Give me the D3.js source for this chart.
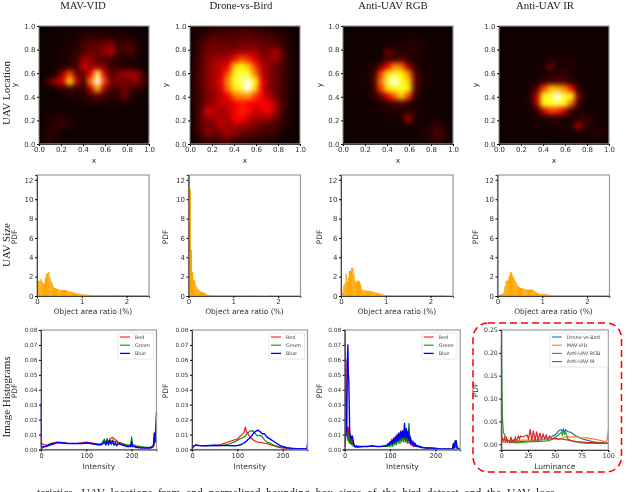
<!DOCTYPE html>
<html>
<head>
<meta charset="utf-8">
<script src="https://cdn.jsdelivr.net/npm/d3@7"></script>
<style>
  html, body { margin: 0; padding: 0; background: #fff; overflow: hidden; }
  svg { display: block; filter: blur(0.35px); }
  .tick text { font-family: "DejaVu Sans"; font-size: 7px; fill: #333; }
  .lbl { font-family: "DejaVu Sans"; font-size: 7.5px; fill: #333; }
  .serif { font-family: "Liberation Serif"; fill: #222; }
  .leg { font-family: "DejaVu Sans"; font-size: 4.9px; fill: #444; }
</style>
</head>
<body>
<svg id="chart" width="640" height="492"></svg>
<script>
// titles and row names
const titles = ['MAV-VID', 'Drone-vs-Bird', 'Anti-UAV RGB', 'Anti-UAV IR'];
const rowNames = ['UAV Location', 'UAV Size', 'Image Histograms'];

// UAV location density, 16 x 16 cells, top row is y = 1
const heatMav = [
  1,1,1,2,2,2,2,3,3,3,2,2,2,1,1,1,
  1,1,1,2,2,4,6,7,7,6,5,5,5,4,2,1,
  1,1,2,2,3,5,10,15,14,18,22,8,10,10,3,1,
  1,1,2,2,4,6,12,18,15,24,28,9,8,12,4,1,
  1,1,2,3,5,9,26,24,14,12,10,6,4,4,2,1,
  1,1,2,4,6,10,34,24,26,20,8,6,5,4,2,1,
  1,1,5,26,52,16,16,42,84,36,12,20,26,28,22,4,
  1,14,26,40,74,30,10,60,104,52,16,22,16,20,20,6,
  1,2,4,7,10,7,7,32,66,26,12,9,18,10,7,2,
  1,1,1,2,3,3,5,9,14,9,6,6,18,5,2,1,
  1,1,1,1,1,2,3,3,3,3,3,3,3,2,1,1,
  1,1,1,1,1,1,1,1,1,1,1,1,1,1,1,1,
  1,3,5,6,4,1,1,1,1,1,1,1,1,1,1,1,
  1,5,7,7,4,1,1,1,1,1,1,1,1,1,1,1,
  1,6,3,1,1,1,1,1,1,1,1,1,1,1,1,1,
  1,6,3,1,1,1,1,1,1,1,1,1,1,1,1,1
];
const heatDrone = [
  2,3,5,7,8,8,8,10,10,8,6,5,4,2,1,1,
  2,6,11,13,13,13,12,14,14,12,12,11,9,6,2,1,
  3,9,15,17,16,15,15,18,18,18,15,14,13,8,3,1,
  4,10,17,20,19,20,23,26,28,28,18,20,30,12,4,1,
  4,11,20,25,27,28,44,54,48,36,24,22,26,13,5,2,
  5,12,21,28,32,40,72,78,70,50,30,22,15,11,5,2,
  5,13,22,28,34,54,80,86,80,60,32,22,15,10,5,2,
  5,13,22,28,38,62,82,88,112,78,38,22,15,10,4,2,
  5,12,21,26,36,58,76,84,108,72,40,22,15,9,4,2,
  4,11,19,24,32,40,58,62,64,50,40,28,18,9,4,1,
  4,11,20,26,34,34,40,46,42,40,42,40,26,10,4,1,
  4,13,36,32,24,32,40,46,44,32,36,42,26,10,3,1,
  4,13,24,24,30,26,40,42,32,26,26,24,15,8,3,1,
  4,13,19,19,32,24,30,26,24,19,15,13,10,6,2,1,
  3,11,22,17,20,26,22,17,15,12,10,9,7,3,1,1,
  1,5,9,9,11,15,9,7,6,5,4,4,3,1,1,1
];
const heatRgb = [
  1,1,1,1,1,1,1,1,1,1,1,1,1,1,1,1,
  1,1,1,1,1,1,1,2,2,3,3,2,1,1,1,1,
  1,1,1,1,1,1,2,3,3,4,4,3,2,1,1,1,
  1,1,1,1,1,1,16,6,4,5,5,3,2,1,1,1,
  1,1,1,1,1,2,12,10,16,6,4,2,1,1,1,1,
  1,1,1,2,4,18,42,62,58,26,6,3,2,1,1,1,
  1,1,2,2,8,50,76,84,78,62,14,4,2,1,1,1,
  1,3,2,3,10,58,86,100,82,72,16,4,2,1,1,1,
  1,1,2,2,8,50,74,80,82,76,14,3,2,1,1,1,
  1,1,1,2,4,16,38,56,72,50,8,2,1,1,1,1,
  1,1,1,1,2,4,7,10,12,8,3,2,1,1,1,1,
  1,1,1,1,2,3,3,4,4,4,3,2,1,1,1,1,
  1,1,1,1,1,2,2,3,3,28,3,2,1,1,1,1,
  1,1,1,1,1,1,1,2,2,4,2,2,3,8,4,1,
  1,1,1,1,1,1,1,1,1,1,1,3,6,12,8,2,
  1,1,1,1,1,1,1,1,1,1,1,2,3,5,5,1
];
const heatIr = [
  1,1,1,1,1,1,1,1,1,1,1,1,1,1,1,1,
  1,1,1,1,1,1,1,1,1,1,1,1,1,1,1,1,
  1,1,1,1,1,1,1,1,1,1,1,1,1,1,1,1,
  1,1,1,1,1,1,1,2,2,2,2,2,1,1,1,1,
  1,1,1,1,1,1,2,3,3,3,3,2,1,1,1,1,
  1,1,1,1,1,2,3,16,4,3,3,2,1,1,1,1,
  1,1,1,1,1,2,3,4,5,8,3,2,1,1,1,1,
  1,1,1,1,2,3,8,10,12,10,6,3,1,1,1,1,
  1,1,1,1,3,14,50,70,68,62,44,8,2,1,1,1,
  1,2,1,2,4,32,80,84,100,84,78,20,3,1,1,1,
  1,1,1,2,4,28,78,82,84,80,56,10,2,1,1,1,
  1,1,1,1,3,6,34,50,48,34,8,4,2,1,1,1,
  1,1,1,1,2,3,4,6,6,4,3,3,10,3,1,1,
  1,1,1,1,1,2,2,3,3,3,3,28,6,4,2,1,
  1,1,1,1,1,1,1,2,2,2,2,3,3,3,6,2,
  1,1,1,1,1,1,1,1,1,1,1,1,1,1,2,1
];
const heatGrids = [heatMav, heatDrone, heatRgb, heatIr];

// object area ratio histograms, bin width 0.025 %
const areaMav = [1.5,1.6,1.55,1.75,1.5,1.3,1.3,1.9,2.3,2.35,2.5,1.9,1.5,1.3,1,.85,.8,.75,.7,.65,.65,.62,.65,.62,.62,.6,.58,.55,.5,.45,.42,.4,.36,.32,.3,.28,.24,.22,.2,.2,.17,.16,.15,.15,.14,.13,.13,.12,.1,.1,.09,.1,.1,.09,.12,.1,.09,.08,.08,.1,.08,.09,.1,.08,.1,.07,.1,.08,.12,.08,.14,.1,.08,.1,.07,.08,.09,.08,.1,.1,.08,.09,.07,.1,.08,.09,.08,.1,.07,.09,.08,.08,.07,.08,.07,.07,.08,.06,.07,.06];
const areaDrone = [12.5,11,4.8,2.5,1.7,1.6,1.1,.9,.7,.6,.5,.4,.4,.35,.3,.22,.18,.12,.1,.09,.08,.07,.06,.06,.05,.05,.05,.05,.05,.05,.05,.05,.05,.05,.05,.05,.05,.05,.05,.05,.05,.04,.04,.04,.04,.03,.03,.03,.03,.03,.02,.03,.06,.02,.07,.02,.08,.02,.07,.06,.02,.02,0,0,0,0,0,0,0,0,0,0,.06,.07,.06,0,.05,0,0,0,0,0,0,0,0,0,0,0,0,0,0,0,0,0,0,0,0,0,0,0];
const areaRgb = [.75,.3,1.1,1.3,2.3,1.5,1.9,2.6,2.6,2.9,2.9,2.2,1.6,1.5,1.5,1.6,1.5,1.2,.7,.6,.6,.58,.56,.55,.55,.52,.5,.5,.46,.42,.36,.34,.3,.28,.25,.22,.2,.16,.12,.1,.08,.08,.07,.07,.06,.06,.06,.05,.05,.05,.05,.05,.05,.05,.05,.05,.05,.05,.05,.05,.05,.05,.05,.05,.05,.05,.05,.05,.05,.05,.05,.05,.05,.05,.05,.05,.05,.05,.05,.05,.05,.05,.05,.05,.05,.05,.05,.05,.05,.05,.05,.04,.03,0,0,0,0,0,0,0];
const areaIr = [.05,.1,.15,.2,.2,.35,1,1.55,1.6,1.7,2.1,2.5,2.4,2.1,1.9,1.6,1.4,1.2,1,.9,.85,.82,.8,.75,.7,.68,.65,.65,.65,.68,.7,.62,.55,.48,.4,.3,.25,.22,.2,.22,.22,.2,.2,.18,.15,.14,.12,.1,.08,.08,.07,.06,.06,.05,.05,.05,.05,.05,.05,.05,.05,.05,.05,.05,.05,.05,.05,.05,.05,.05,.05,.05,.05,.05,.05,.05,.05,.05,.05,.05,.05,.05,.05,.05,.05,.05,.05,.05,.05,.05,.05,.05,.04,.04,.02,.02,.05,.02,.03,.04];
const areaSets = [areaMav, areaDrone, areaRgb, areaIr];

// pixel intensity histograms
const intensityMav = [0,1,2,5,10,15,20,25,30,35,40,50,60,70,80,90,100,110,120,130,135,140,143,146,149,152,155,158,161,164,167,170,180,190,198,200,202,204,206,210,220,230,240,245,248,250,252,255];
const redMav = [.011,.004,.004,.0035,.003,.003,.0035,.0045,.0045,.005,.005,.0045,.004,.004,.004,.0045,.005,.0045,.004,.0035,.004,.006,.005,.0065,.005,.007,.0075,.008,.0075,.0065,.006,.005,.004,.003,.0025,.003,.0025,.002,.002,.002,.0015,.001,.001,.0012,.002,.003,.006,.012];
const greenMav = [.005,.001,.001,.0015,.002,.003,.004,.004,.004,.0045,.0045,.004,.004,.004,.004,.004,.004,.004,.0035,.0035,.0045,.007,.004,.0075,.0045,.0065,.005,.0065,.005,.0055,.005,.0045,.0035,.003,.003,.0085,.004,.003,.003,.0025,.002,.0015,.0015,.002,.003,.004,.008,.015];
const blueMav = [.031,.002,.001,.002,.002,.0025,.003,.0035,.004,.0045,.0045,.0045,.004,.004,.004,.004,.0045,.004,.0035,.003,.0035,.005,.003,.0055,.003,.006,.0035,.0055,.003,.0045,.0025,.004,.003,.002,.002,.005,.002,.002,.002,.0015,.001,.001,.001,.0015,.002,.011,.005,.025];

const intensityDrone = [0,3,8,15,30,50,60,70,80,90,100,105,110,115,118,120,123,127,130,135,140,145,150,155,160,165,170,180,190,200,210,220,230,240,250,254,255];
const redDrone = [.001,.002,.003,.0027,.0025,.0028,.003,.004,.005,.006,.007,.0085,.01,.0115,.015,.012,.011,.0085,.0075,.0065,.0055,.005,.0048,.0045,.0042,.004,.0035,.0025,.0015,.001,.0007,.0005,.0004,.0004,.0004,.0008,.001];
const greenDrone = [.001,.002,.0028,.0027,.0025,.0026,.0025,.003,.0035,.0045,.006,.007,.0075,.0085,.009,.01,.011,.012,.0125,.0125,.0105,.009,.0095,.0085,.0065,.005,.0045,.003,.002,.0013,.001,.0007,.0005,.0004,.0004,.0006,.002];
const blueDrone = [.0005,.002,.003,.0027,.0025,.0028,.0027,.0026,.0026,.0025,.0026,.003,.0035,.0045,.005,.0055,.0065,.0075,.0085,.0105,.012,.013,.012,.0105,.0105,.0085,.0075,.0055,.0035,.002,.0012,.0008,.0006,.0005,.0005,.0008,.004];

const intensityRgb = [0,1,2,3,4,5,6,7,8,9,10,11,12,13,14,15,16,17,18,20,22,24,26,28,30,40,50,60,70,80,90,94,96,98,100,102,104,106,108,110,112,114,116,118,120,122,124,126,128,130,132,134,136,138,140,142,144,146,148,150,152,154,156,158,160,165,170,180,190,200,210,220,230,238,240,242,244,246,248,250,255];
const redRgb = [.001,.02,.055,.06,.03,.012,.015,.008,.015,.006,.012,.005,.01,.004,.009,.004,.007,.003,.006,.003,.0025,.002,.0015,.002,.0015,.002,.002,.002,.002,.002,.0025,.003,.004,.003,.005,.004,.007,.004,.008,.005,.009,.005,.0095,.006,.011,.006,.0125,.007,.0115,.006,.0105,.006,.0085,.005,.0075,.004,.0055,.003,.0045,.0025,.004,.002,.003,.002,.0025,.002,.0015,.001,.001,.0006,.0004,.0003,.0003,.0004,.003,.001,.005,.001,.002,.0005,.0005];
const greenRgb = [.08,.07,.04,.02,.01,.009,.012,.006,.01,.005,.008,.004,.007,.004,.005,.003,.005,.003,.003,.002,.002,.0015,.0015,.0015,.0015,.002,.002,.002,.002,.002,.002,.002,.003,.002,.004,.002,.005,.002,.006,.003,.007,.003,.009,.004,.01,.004,.011,.005,.012,.005,.012,.005,.01,.004,.011,.0175,.005,.008,.003,.005,.002,.004,.002,.003,.002,.0015,.0012,.001,.0008,.0005,.0003,.0003,.0003,.0003,.002,.001,.006,.001,.001,.0004,.0004];
const blueRgb = [.002,.004,.008,.015,.012,.03,.06,.07,.05,.047,.03,.012,.01,.008,.009,.007,.008,.009,.007,.004,.002,.002,.0025,.002,.002,.002,.002,.0025,.002,.002,.0025,.003,.004,.003,.005,.004,.006,.004,.007,.005,.008,.006,.01,.006,.011,.007,.012,.008,.0125,.008,.0175,.008,.014,.008,.012,.006,.009,.004,.006,.003,.005,.0025,.004,.002,.0025,.002,.0015,.001,.001,.0008,.0004,.0004,.0004,.0004,.004,.001,.0055,.006,.002,.0006,.0006];

// luminance histograms
const lumX = [0,1,2,3,5,7,10,15,20,25,30,35,40,45,48,50,52,54,56,57,58,59,60,62,65,70,75,80,85,90,95,97,98,99,100];
const lumDrone = [.01,.01,.009,.009,.008,.007,.006,.006,.006,.007,.008,.009,.011,.014,.018,.02,.025,.03,.032,.028,.033,.027,.032,.028,.026,.018,.012,.009,.006,.004,.003,.002,.002,.002,.004];
const lumMav = [.035,.005,.004,.004,.005,.005,.006,.008,.009,.009,.009,.01,.011,.011,.011,.012,.011,.01,.012,.014,.014,.015,.016,.016,.016,.016,.014,.014,.012,.01,.007,.005,.006,.012,.03];
const lumRgb = [.215,.06,.025,.022,.012,.006,.004,.003,.004,.005,.006,.006,.007,.008,.012,.015,.018,.022,.026,.02,.03,.022,.028,.012,.008,.005,.003,.002,.002,.002,.002,.002,.002,.002,.004];
const lumIrX = [0,1,2,3,4,5,6,7,8,9,10,11,12,13,14,15,16,17,18,20,22,24,25.5,27,28.5,30,31.5,33,34.5,36,37.5,39,40.5,42,43.5,45,47,50,53,56,60,65,70,80,90,100];
const lumIr = [.008,.012,.008,.015,.006,.013,.005,.008,.004,.016,.005,.01,.006,.015,.007,.012,.018,.012,.018,.016,.018,.02,.012,.033,.008,.03,.008,.028,.008,.025,.01,.022,.012,.02,.01,.018,.012,.014,.012,.012,.01,.008,.006,.004,.003,.002];

const rgbNames = ['Red', 'Green', 'Blue'];
const rgbColors = ['#ff0000', '#008000', '#0000ff'];
const lumNames = ['Drone-vs-Bird', 'MAV-VID', 'Anti-UAV RGB', 'Anti-UAV IR'];
const lumColors = ['#1f77b4', '#ff7f0e', '#2ca02c', '#d62728'];

const histSets = [
  { x: intensityMav, series: [redMav, greenMav, blueMav] },
  { x: intensityDrone, series: [redDrone, greenDrone, blueDrone] },
  { x: intensityRgb, series: [redRgb, greenRgb, blueRgb] }
];

const svg = d3.select('#chart');
const defs = svg.append('defs');
defs.append('filter').attr('id', 'soft')
  .attr('x', '-20%').attr('y', '-20%').attr('width', '140%').attr('height', '140%')
  .attr('color-interpolation-filters', 'sRGB')
  .append('feGaussianBlur').attr('stdDeviation', 2.4);

const FRAME = '#9a9a9a';
const heatColor = d3.scaleLinear()
  .domain([0, 42, 78, 100])
  .range(['#0a0000', '#ff0000', '#ffff00', '#ffffff'])
  .clamp(true);

const TITLE_X = [83, 241, 393, 545];
const YLABEL_X = [17, 168, 322, 478];

titles.forEach((t, i) => {
  svg.append('text').attr('class', 'serif').attr('x', TITLE_X[i]).attr('y', 9)
    .attr('text-anchor', 'middle').style('font-size', '10.8px').text(t);
});

// row names on the far left
[93, 245, 397].forEach((cy, i) => {
  svg.append('text').attr('class', 'serif')
    .attr('transform', `translate(9.5,${cy}) rotate(-90)`)
    .attr('text-anchor', 'middle').style('font-size', '11px').text(rowNames[i]);
});

function frameAndAxes(g, w, h, xScale, yScale, xTicks, yTicks, yFmt, xLabel, yLabel, labelGap, ylabelX, yLabelCy, xFont, yFont) {
  g.append('rect').attr('width', w).attr('height', h)
    .attr('fill', 'none').attr('stroke', FRAME).attr('stroke-width', 1.2);
  const ax = g.append('g').attr('transform', `translate(0,${h})`)
    .call(d3.axisBottom(xScale).tickValues(xTicks).tickSize(2).tickPadding(1.5).tickFormat(xTicks.fmt || null));
  const ay = g.append('g')
    .call(d3.axisLeft(yScale).tickValues(yTicks).tickSize(2).tickPadding(1.5).tickFormat(yFmt));
  ax.select('.domain').attr('stroke', '#444');
  ay.select('.domain').attr('stroke', '#444');
  ax.selectAll('text').style('font-size', xFont + 'px');
  ay.selectAll('text').style('font-size', yFont + 'px');
  g.append('text').attr('class', 'lbl').attr('x', w / 2).attr('y', h + labelGap)
    .attr('text-anchor', 'middle').text(xLabel);
  g.append('text').attr('class', 'lbl')
    .attr('transform', `translate(${ylabelX},${yLabelCy}) rotate(-90)`)
    .attr('text-anchor', 'middle').text(yLabel);
}

// first row: location heat maps
const HEAT_LEFT = [39, 190, 343, 499];
const HEAT_W = 110, HEAT_H = 118, HEAT_TOP = 26, CELLS = 16;
heatGrids.forEach((grid, p) => {
  const g = svg.append('g').attr('transform', `translate(${HEAT_LEFT[p]},${HEAT_TOP})`);
  const x = d3.scaleLinear().domain([0, 1]).range([0, HEAT_W]);
  const y = d3.scaleLinear().domain([0, 1]).range([HEAT_H, 0]);
  const clipId = `heat-clip-${p}`;
  defs.append('clipPath').attr('id', clipId).append('rect').attr('width', HEAT_W).attr('height', HEAT_H);
  const inner = g.append('g').attr('clip-path', `url(#${clipId})`);
  inner.append('rect').attr('width', HEAT_W).attr('height', HEAT_H).attr('fill', '#0a0000');
  inner.append('g').attr('filter', 'url(#soft)')
    .selectAll('rect')
    .data(grid)
    .join('rect')
    .attr('x', (d, i) => x((i % CELLS) / CELLS))
    .attr('y', (d, i) => y(1 - Math.floor(i / CELLS) / CELLS))
    .attr('width', x(1 / CELLS) + 0.5)
    .attr('height', y(0) - y(1 / CELLS) + 0.5)
    .attr('fill', d => heatColor(d));
  const ticks = [0, .2, .4, .6, .8, 1];
  ticks.fmt = d3.format('.1f');
  frameAndAxes(g, HEAT_W, HEAT_H, x, y, ticks, ticks, d3.format('.1f'), 'x', 'y', 19,
    YLABEL_X[p] - HEAT_LEFT[p], HEAT_H / 2, 7, 7);
});

// second row: object size histograms
const AREA_LEFT = [37, 188.5, 341, 497.5];
const AREA_W = 112, AREA_H = 121, AREA_TOP = 175, BIN = 0.025;
areaSets.forEach((vals, p) => {
  const g = svg.append('g').attr('transform', `translate(${AREA_LEFT[p]},${AREA_TOP})`);
  const x = d3.scaleLinear().domain([0, 2.5]).range([0, AREA_W]);
  const y = d3.scaleLinear().domain([0, 12.5]).range([AREA_H, 0]);
  g.append('g').selectAll('rect')
    .data(vals)
    .join('rect')
    .attr('x', (d, i) => x(i * BIN))
    .attr('y', d => y(d))
    .attr('width', x(BIN) + 0.2)
    .attr('height', d => y(0) - y(d))
    .attr('fill', '#ffa500');
  const xt = [0, 1, 2];
  xt.fmt = d3.format('d');
  frameAndAxes(g, AREA_W, AREA_H, x, y, xt, [0, 2, 4, 6, 8, 10, 12], d3.format('d'),
    'Object area ratio (%)', 'PDF', 18, YLABEL_X[p] - AREA_LEFT[p], 62, 7, 7);
});

function drawLegend(g, names, colors, bx, by, bw, bh, lineX, textX, widths) {
  const leg = g.append('g').attr('transform', `translate(${bx},${by})`);
  leg.append('rect').attr('width', bw).attr('height', bh).attr('rx', 1)
    .attr('fill', '#fff').attr('fill-opacity', 0.85).attr('stroke', '#ddd').attr('stroke-width', 0.7);
  names.forEach((n, i) => {
    const ly = 4 + i * 8.2;
    leg.append('line').attr('x1', lineX).attr('x2', lineX + 10).attr('y1', ly).attr('y2', ly)
      .attr('stroke', colors[i]).attr('stroke-width', widths ? widths[i] : 1.1);
    leg.append('text').attr('class', 'leg').attr('x', textX).attr('y', ly + 1.7).text(n);
  });
}

// third row: image histograms
const HIST_LEFT = [41, 192, 344.7];
const HIST_W = 115.5, HIST_H = 119.5, HIST_TOP = 330;
histSets.forEach((set, p) => {
  const g = svg.append('g').attr('transform', `translate(${HIST_LEFT[p]},${HIST_TOP})`);
  const x = d3.scaleLinear().domain([0, 255]).range([0, HIST_W]);
  const y = d3.scaleLinear().domain([0, 0.08]).range([HIST_H, 0]);
  const line = d3.line().x(d => x(d[0])).y(d => y(d[1]));
  set.series.forEach((vals, s) => {
    g.append('path')
      .datum(vals.map((v, i) => [set.x[i], v]))
      .attr('fill', 'none')
      .attr('stroke', rgbColors[s])
      .attr('stroke-width', s === 2 ? 1.4 : 1.1)
      .attr('stroke-linejoin', 'round')
      .attr('d', line);
  });
  const xt = [0, 100, 200];
  xt.fmt = d3.format('d');
  frameAndAxes(g, HIST_W, HIST_H, x, y, xt, d3.range(0, 0.081, 0.01), d3.format('.2f'),
    'Intensity', 'PDF', 19, YLABEL_X[p] - HIST_LEFT[p], 61, 6.6, 5.8);
  drawLegend(g, rgbNames, rgbColors, HIST_W - 38.5, 3, 35.5, 26, 2, 17, [1, 1, 1.3]);
});

// luminance panel in the red dashed box
const lumG = svg.append('g').attr('transform', 'translate(501.3,330)');
const LUM_W = 107, LUM_H = 120;
const lumXScale = d3.scaleLinear().domain([0, 100]).range([0, LUM_W]);
const lumYScale = d3.scaleLinear().domain([-0.0125, 0.25]).range([LUM_H, 0]);
const lumLine = d3.line().x(d => lumXScale(d[0])).y(d => lumYScale(d[1]));
const lumSeries = [
  { x: lumX, y: lumDrone }, { x: lumX, y: lumMav }, { x: lumX, y: lumRgb }, { x: lumIrX, y: lumIr }
];
lumSeries.forEach((s, i) => {
  lumG.append('path')
    .datum(s.y.map((v, j) => [s.x[j], v]))
    .attr('fill', 'none').attr('stroke', lumColors[i]).attr('stroke-width', 1.2)
    .attr('d', lumLine);
});
const lumTicks = [0, 25, 50, 75, 100];
lumTicks.fmt = d3.format('d');
frameAndAxes(lumG, LUM_W, LUM_H, lumXScale, lumYScale, lumTicks, [0, .05, .1, .15, .2, .25], d3.format('.2f'),
  'Luminance', 'PDF', 19, 478 - 501.3, 60, 6.4, 6.2);
drawLegend(lumG, lumNames, lumColors, 48.5, 3, 58, 34, 2, 17);

svg.append('rect').attr('x', 473).attr('y', 323).attr('width', 148.5).attr('height', 149)
  .attr('rx', 15).attr('fill', 'none').attr('stroke', '#ff0000')
  .attr('stroke-width', 1.5).attr('stroke-dasharray', '7 4');

// caption line, only its top shows at the bottom of the page
svg.append('text').attr('class', 'serif').attr('x', 37).attr('y', 497)
  .style('font-size', '11.5px').style('word-spacing', '3px')
  .text('teristics. UAV locations from and normalized bounding box sizes of the bird dataset and the UAV loca');
</script>
</body>
</html>
